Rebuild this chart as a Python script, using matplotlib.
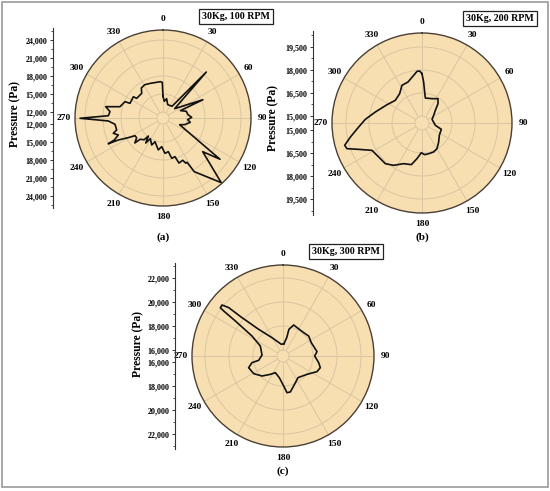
import numpy as np
import matplotlib
matplotlib.use("Agg")
import matplotlib.pyplot as plt
from matplotlib.patches import Rectangle

# ---------------- data ----------------
angle_ticks = [0, 30, 60, 90, 120, 150, 180, 210, 240, 270, 300, 330]

# (a) 30Kg, 100 RPM
theta_a = [0, 4.6, 10.7, 19.3, 37.6, 43.3, 51.3, 65.4, 67, 74, 82.4, 88.7, 93.9, 99,
           107, 112, 125.9, 130.3, 138, 149.8, 151.5, 153.2, 155, 160.5, 162.8, 167.8,
           171, 176.8, 182.6, 188.4, 198.6, 202.7, 211.5, 214.7, 219, 221, 227, 228.5,
           233, 237.7, 240.5, 243.8, 244.8, 245.7, 249.2, 252.9, 255.5, 262.5, 266.9,
           269.8, 272.4, 276.8, 281.2, 284.7, 293.2, 294, 305.6, 306.8, 319.2, 324.2,
           331.2, 339.9, 355.8, 358.9]
p_a = [14610, 13790, 14280, 13360, 13460, 21530, 13490, 18330, 14160, 15040, 15210,
       15780, 15120, 15610, 14780, 13990, 22730, 19670, 25500, 21350, 19400, 19430,
       18770, 18970, 17750, 17870, 16680, 16900, 15780, 16380, 15170, 15880, 15040,
       16070, 14870, 15800, 16200, 17280, 16500, 16520, 17650, 19300, 21100, 19900,
       18970, 19670, 18980, 19070, 20130, 24830, 20120, 19900, 20730, 18420, 17900,
       17020, 17080, 16480, 16430, 17170, 17330, 17150, 17070, 16940]
ticks_a = [12000, 15000, 18000, 21000, 24000]

# (b) 30Kg, 200 RPM
theta_b = [0, 2.3, 4.9, 7.6, 22.3, 33.3, 39.6, 46.5, 56.7, 70, 99.9, 108.1, 125.4,
           138.7, 149.7, 158.1, 167.7, 175.2, 181.3, 188, 194.4, 204.3, 213.8, 222,
           231.9, 241.3, 247.4, 251.1, 253.9, 258.9, 266.4, 273.7, 283.3, 297.6, 310.4,
           322.7, 332, 341.1, 350.1, 354.5, 357.4]
p_b = [17760, 17217, 16571, 16187, 16258, 16442, 16180, 15743, 15456, 15240, 15426,
       15870, 15930, 16190, 16480, 16580, 16590, 16617, 16480, 16890, 17347, 17452,
       17866, 18114, 18134, 18260, 19016, 19714, 19792, 19303, 18681, 18247, 17668,
       17119, 16826, 16949, 17327, 17367, 17699, 17927, 17940]
ticks_b = [15000, 16500, 18000, 19500]

# (c) 30Kg, 300 RPM
theta_c = [4.6, 11.5, 12.5, 19, 28.5, 41.5, 52.1, 64.8, 82.7, 90, 100.6, 107.4, 114.7,
           127.4, 145.3, 160.4, 168.5, 173.8, 178.7, 189.6, 204.7, 214.6, 226.4, 238.9,
           251.2, 257.9, 259.9, 272.7, 293.8, 302.8, 306.3, 307.2, 307.6, 309.9, 311.7,
           313.1, 317.6, 329, 351.9]
p_c = [16533, 17064, 17772, 18233, 18122, 18097, 18211, 18106, 18356, 18139, 18525,
       18758, 18617, 18017, 17692, 18150, 18558, 18575, 18000, 17333, 17028, 17358,
       17917, 18350, 18525, 18142, 17558, 17250, 17567, 18575, 20425, 21708, 22092,
       22125, 21558, 20175, 18508, 17283, 16483]
ticks_c = [16000, 18000, 20000, 22000]

titles = ["30Kg, 100 RPM", "30Kg, 200 RPM", "30Kg, 300 RPM"]
panel_labels = ["(a)", "(b)", "(c)"]

# ---------------- style ----------------
W, H = 550, 491
FONT = "Liberation Serif"
plt.rcParams["font.family"] = [FONT, "DejaVu Serif"]
plt.rcParams["font.weight"] = "bold"
TAN = "#F7DFB2"
GRID = "#D9C6A2"
EDGE = "#4A4036"

fig = plt.figure(figsize=(W / 100, H / 100), dpi=100)
fig.patch.set_facecolor("white")
fig.add_artist(Rectangle((2 / W, 1 - 487 / H), 546 / W, 485 / H, transform=fig.transFigure,
                         fill=False, edgecolor="#9a9a9a", lw=1.2))


def panel(theta, pres, ticks, rmin, rorigin, rmax, cx, cy, R, axis_x, title, tpos,
          lab, lab_y, ylab_x, ylab_y):
    rect = [(cx - R) / W, 1 - (cy + R) / H, 2 * R / W, 2 * R / H]
    bg = fig.add_axes(rect, projection="polar", label=lab + "bg")
    bg.set_facecolor(TAN)
    bg.set_xticks([])
    bg.set_yticks([])
    bg.grid(False)
    bg.spines["polar"].set_visible(False)

    ax = fig.add_axes(rect, projection="polar", label=lab)
    ax.patch.set_alpha(0)
    ax.set_theta_zero_location("N")
    ax.set_theta_direction(-1)
    ax.set_rorigin(rorigin)
    ax.set_rlim(rmin, rmax)
    ax.set_rgrids(ticks[1:], labels=[""] * (len(ticks) - 1))
    ax.set_thetagrids(angle_ticks, labels=[str(a) for a in angle_ticks])
    ax.tick_params(axis="x", direction="in", length=3, width=0.8, color=EDGE,
                   pad=1.0, labelsize=6.8)
    ax.tick_params(axis="y", length=0)
    ax.grid(True, color=GRID, lw=0.7)
    ax.spines["polar"].set_color(EDGE)
    ax.spines["polar"].set_linewidth(1.0)
    ax.spines["inner"].set_color(GRID)
    ax.spines["inner"].set_linewidth(0.7)
    th = np.radians(list(theta) + [theta[0]])
    pr = list(pres) + [pres[0]]
    ax.plot(th, pr, color="#111111", lw=1.2, solid_joinstyle="round")

    # left mirrored radial axis
    ext = 2
    span = (rmax - rorigin) * (R + ext) / R
    lax = fig.add_axes([axis_x / W, 1 - (cy + R + ext) / H, 0.0001, 2 * (R + ext) / H])
    lax.set_ylim(-span, span)
    lax.set_xticks([])
    for s in ["top", "right", "bottom"]:
        lax.spines[s].set_visible(False)
    lax.spines["left"].set_color("#333333")
    lax.spines["left"].set_linewidth(0.8)
    pos = [t - rorigin for t in ticks] + [-(t - rorigin) for t in ticks]
    labs = [f"{t:,}" for t in ticks] * 2
    lax.set_yticks(pos)
    lax.set_yticklabels(labs)
    step = ticks[1] - ticks[0]
    minors = [t + step / 2 for t in ticks if t + step / 2 < rmax]
    lax.set_yticks([m - rorigin for m in minors] + [-(m - rorigin) for m in minors], minor=True)
    lax.tick_params(axis="y", which="major", direction="out", length=2.5, width=0.7,
                    labelsize=5.8, pad=1.5, color="#333333")
    lax.tick_params(axis="y", which="minor", direction="out", length=1.3, width=0.6,
                    color="#333333")
    fig.text(ylab_x / W, 1 - ylab_y / H, "Pressure (Pa)", rotation=90, ha="center",
             va="center", fontsize=8.4, fontweight="bold")
    fig.text(tpos[0] / W, 1 - tpos[1] / H, title, ha="center", va="center", fontsize=7.2,
             fontweight="bold",
             bbox=dict(boxstyle="square,pad=0.3", facecolor="white", edgecolor="#222222",
                       lw=0.9))
    fig.text(cx / W, 1 - lab_y / H, lab, ha="center", va="center", fontsize=8.2,
             fontweight="bold")


panel(theta_a, p_a, ticks_a, 12000, 11000, 25670, 163, 118, 88, 53, titles[0],
      (236, 16.5), panel_labels[0], 237, 15, 114)
panel(theta_b, p_b, ticks_b, 15000, 14543, 20413, 422, 123, 90, 313, titles[1],
      (500, 18.5), panel_labels[1], 237, 273, 118)
panel(theta_c, p_c, ticks_c, 16000, 15500, 23083, 283, 356, 91, 175, titles[2],
      (346, 251.5), panel_labels[2], 471, 138, 344)

fig.savefig("out.png", dpi=100)
